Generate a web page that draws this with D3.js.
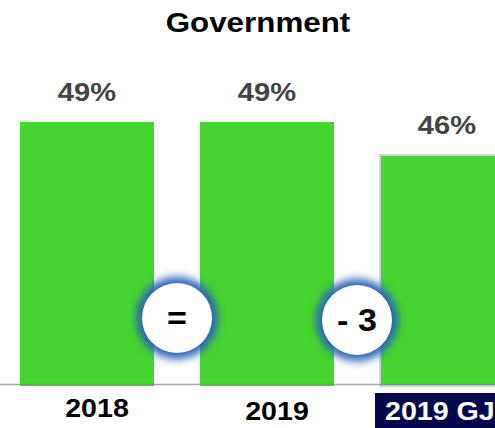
<!DOCTYPE html>
<html>
<head>
<meta charset="utf-8">
<script src="https://cdn.jsdelivr.net/npm/d3@7"></script>
<style>
  html, body { margin: 0; padding: 0; background: #fff; }
  svg { display: block; font-family: "Liberation Sans", Arial, Helvetica, sans-serif; }
</style>
</head>
<body>
<svg id="chart" width="495" height="428"></svg>
<script>
// Share of respondents, Government
const title = "Government";
const categories = ["2018", "2019", "2019 GJ"];
const values = [49, 49, 46];
const valueLabels = ["49%", "49%", "46%"];
// Change badges shown between neighbouring bars
const changeLabels = ["=", "- 3"];
const highlighted = "2019 GJ";

const W = 495, H = 428;
const svg = d3.select("#chart");

const defs = svg.append("defs");
const glow = defs.append("filter").attr("id", "glow")
  .attr("x", "-50%").attr("y", "-50%").attr("width", "200%").attr("height", "200%");
glow.append("feGaussianBlur").attr("stdDeviation", 4);

// Horizontal stretch applied to text around its anchor point
const stretch = (cx, k = 1.12) => `translate(${cx},0) scale(${k},1) translate(${-cx},0)`;

const x = d3.scaleBand()
  .domain(categories)
  .range([20, 514])
  .paddingInner(0.2556)
  .paddingOuter(0);

// Value axis starts above zero (truncated baseline)
const y = d3.scaleLinear()
  .domain([25.18, 49])
  .range([384, 122]);

// Title
svg.append("text")
  .attr("x", 258).attr("y", 32)
  .attr("text-anchor", "middle")
  .attr("font-size", 28).attr("font-weight", "bold")
  .attr("fill", "#000")
  .attr("transform", stretch(258))
  .text(title);

// Bars
svg.selectAll("rect.bar")
  .data(categories)
  .join("rect")
  .attr("class", "bar")
  .attr("x", d => x(d))
  .attr("y", (d, i) => y(values[i]))
  .attr("width", x.bandwidth())
  .attr("height", (d, i) => y.range()[0] - y(values[i]) + 2)
  .attr("fill", "#45d52f")
  .attr("stroke", d => d === highlighted ? "#c9d3df" : "none")
  .attr("stroke-width", 2);

// Baseline
svg.append("line")
  .attr("x1", 0).attr("x2", W)
  .attr("y1", 384.5).attr("y2", 384.5)
  .attr("stroke", "#888").attr("stroke-opacity", 0.75)
  .attr("stroke-width", 1.5);

// Value labels
svg.selectAll("text.val")
  .data(categories)
  .join("text")
  .attr("class", "val")
  .attr("x", d => x(d) + x.bandwidth() / 2)
  .attr("y", (d, i) => y(values[i]) - 21)
  .attr("text-anchor", "middle")
  .attr("font-size", 26).attr("font-weight", "bold")
  .attr("fill", "#444")
  .attr("transform", d => stretch(x(d) + x.bandwidth() / 2))
  .text((d, i) => valueLabels[i]);

// Change badges between bars
const badges = svg.selectAll("g.badge")
  .data(changeLabels)
  .join("g")
  .attr("class", "badge")
  .attr("transform", (d, i) => {
    const cx = (x(categories[i]) + x.bandwidth() + x(categories[i + 1])) / 2;
    return `translate(${cx},${318 + i * 2})`;
  });
badges.append("circle").attr("r", 41).attr("fill", "#2a62b8").attr("filter", "url(#glow)");
badges.append("circle").attr("r", 35).attr("fill", "#fff");
badges.append("text")
  .attr("text-anchor", "middle").attr("dy", "0.36em")
  .attr("font-size", 31).attr("font-weight", "bold")
  .attr("fill", "#000")
  .attr("transform", "scale(1.1,1)")
  .text(d => d);

// Category labels
const labelGroup = svg.selectAll("g.cat")
  .data(categories)
  .join("g")
  .attr("class", "cat");

labelGroup.filter(d => d === highlighted)
  .append("rect")
  .attr("x", d => x(d) - 5).attr("y", 393)
  .attr("width", W - x(highlighted) + 5).attr("height", 40)
  .attr("fill", "#07074b");

labelGroup.append("text")
  .attr("x", d => d === highlighted ? x(d) + 5 : x(d) + x.bandwidth() / 2 + 10)
  .attr("y", (d, i) => 417 + Math.min(i, 1) * 3)
  .attr("text-anchor", d => d === highlighted ? "start" : "middle")
  .attr("font-size", 26).attr("font-weight", "bold")
  .attr("fill", d => d === highlighted ? "#fff" : "#000")
  .attr("transform", d => stretch(d === highlighted ? x(d) + 5 : x(d) + x.bandwidth() / 2 + 10, 1.1))
  .text(d => d);
</script>
</body>
</html>
